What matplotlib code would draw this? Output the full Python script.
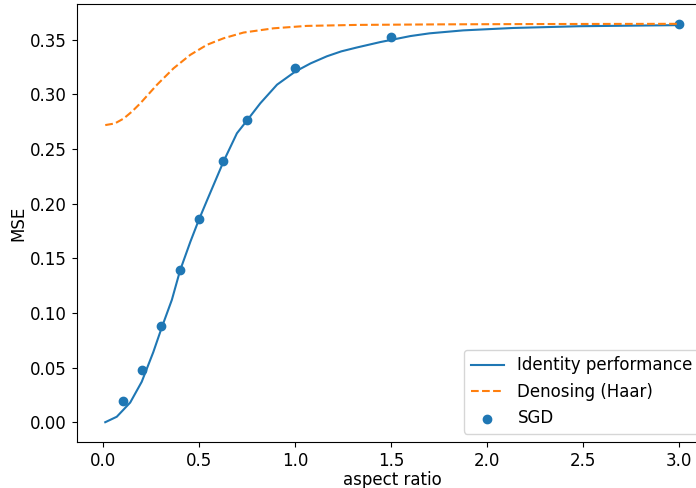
import matplotlib
matplotlib.use('Agg')
import matplotlib.pyplot as plt

# Данные
identity_x = [0.01, 0.07, 0.14, 0.2, 0.26, 0.305, 0.357, 0.4, 0.453, 0.497, 0.54,
              0.627, 0.696, 0.752, 0.818, 0.905, 1.0, 1.08, 1.165, 1.24, 1.32, 1.443, 1.6,
              1.7, 1.875, 2.135, 2.48, 3.0]
identity_y = [0.0, 0.005, 0.018, 0.037, 0.064, 0.087, 0.112, 0.139, 0.165, 0.185, 0.203,
              0.239, 0.2645, 0.277, 0.292, 0.309, 0.321, 0.3285, 0.335, 0.3395, 0.343, 0.348, 0.3535,
              0.356, 0.3587, 0.3609, 0.3625, 0.3635]

haar_x = [0.01, 0.06, 0.106, 0.15, 0.193, 0.28, 0.366, 0.453, 0.54, 0.627, 0.73, 0.887, 1.06,
          1.32, 1.75, 2.25, 3.0]
haar_y = [0.272, 0.2735, 0.278, 0.2845, 0.292, 0.309, 0.324, 0.3363, 0.3455, 0.3515, 0.3567, 0.3606, 0.3628,
          0.3637, 0.3642, 0.3645, 0.3647]

sgd_x = [0.1, 0.2, 0.3, 0.4, 0.5, 0.625, 0.75, 1.0, 1.5, 3.0]
sgd_y = [0.0192, 0.0476, 0.088, 0.1396, 0.1857, 0.239, 0.2767, 0.324, 0.3525, 0.3647]

plt.rcParams['font.size'] = 12

fig = plt.figure(figsize=(6.96, 4.88), dpi=100)
ax = fig.add_axes([0.11, 0.094, 0.907, 0.898])

ax.plot(identity_x, identity_y, color='C0', label='Identity performance')
ax.plot(haar_x, haar_y, color='C1', linestyle='--', label='Denosing (Haar)')
ax.scatter(sgd_x, sgd_y, color='C0', label='SGD')

ax.set_xlabel('aspect ratio', labelpad=0.5)
ax.set_ylabel('MSE', labelpad=2)
ax.set_xticks([0.0, 0.5, 1.0, 1.5, 2.0, 2.5, 3.0])
ax.legend(loc='lower right')

fig.savefig('out.png', dpi=100)
